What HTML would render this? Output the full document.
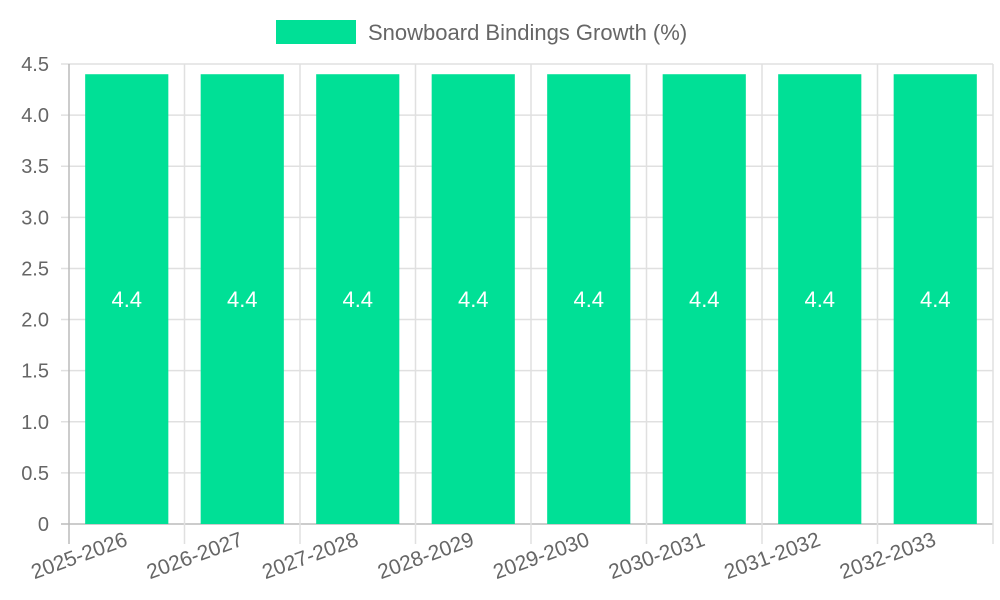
<!DOCTYPE html>
<html><head><meta charset="utf-8"><style>
html,body{margin:0;padding:0;background:#fff;}
svg{display:block;font-family:"Liberation Sans",sans-serif;}
</style></head><body>
<svg id="chart" width="1000" height="600" xmlns="http://www.w3.org/2000/svg">
<g>
<rect x="276" y="20" width="80" height="24" fill="#00e096"/>
<text x="368" y="40" font-size="22" fill="#666">Snowboard Bindings Growth (%)</text>
</g>
<g id="grid"></g><g id="bars"></g><g id="labels"></g>
</svg>
<script>
const categories = ["2025-2026","2026-2027","2027-2028","2028-2029","2029-2030","2030-2031","2031-2032","2032-2033"];
const values = [4.4,4.4,4.4,4.4,4.4,4.4,4.4,4.4];
const yTicks = [0,0.5,1,1.5,2,2.5,3,3.5,4,4.5];
const yTickLabels = ["0","0.5","1.0","1.5","2.0","2.5","3.0","3.5","4.0","4.5"];
const NS="http://www.w3.org/2000/svg";
const x0=69,x1=993,yTop=64,yBot=524,yMax=4.5;
const band=(x1-x0)/categories.length;
const y=v=>yBot-(v/yMax)*(yBot-yTop);
const xc=i=>x0+band*(i+0.5);
function mk(t,a,p){const e=document.createElementNS(NS,t);for(const k in a)e.setAttribute(k,a[k]);p.appendChild(e);return e;}
const grid=document.getElementById('grid'),bars=document.getElementById('bars'),labels=document.getElementById('labels');
yTicks.forEach((v,i)=>{
  const l=mk('line',{x1:x0-8,x2:x1,y1:y(v),y2:y(v),stroke:i===0?'#bbb':'#e0e0e0','stroke-width':1.5},grid);
  
  
  const t=mk('text',{x:x0-20,y:y(v)+7,'font-size':20,fill:'#666','text-anchor':'end'},labels);
  t.textContent=yTickLabels[i];
  
  
});
for(let i=0;i<=categories.length;i++){
  const gx=x0+band*i;
  const l=mk('line',{x1:gx,x2:gx,y1:yTop,y2:yBot+20,stroke:i===0?'#bbb':'#e0e0e0','stroke-width':1.5},grid);
  
  
}
categories.forEach((c,i)=>{
  const bw=band*0.72;
  const r=mk('rect',{x:xc(i)-bw/2,y:y(values[i]),width:bw,height:yBot-y(values[i]),fill:'#00e096'},bars);
  
  
  const vt=mk('text',{x:xc(i),y:y(values[i]/2)+8,'font-size':22,fill:'#fff','text-anchor':'middle'},labels);
  vt.textContent=values[i];
  
  
  const tx=xc(i)+2,ty=545;
  const xt=mk('text',{x:tx,y:ty,'font-size':21,fill:'#666','text-anchor':'end',transform:`rotate(-20 ${tx} ${ty})`},labels);
  xt.textContent=c;
  
  
});
</script>
</body></html>
